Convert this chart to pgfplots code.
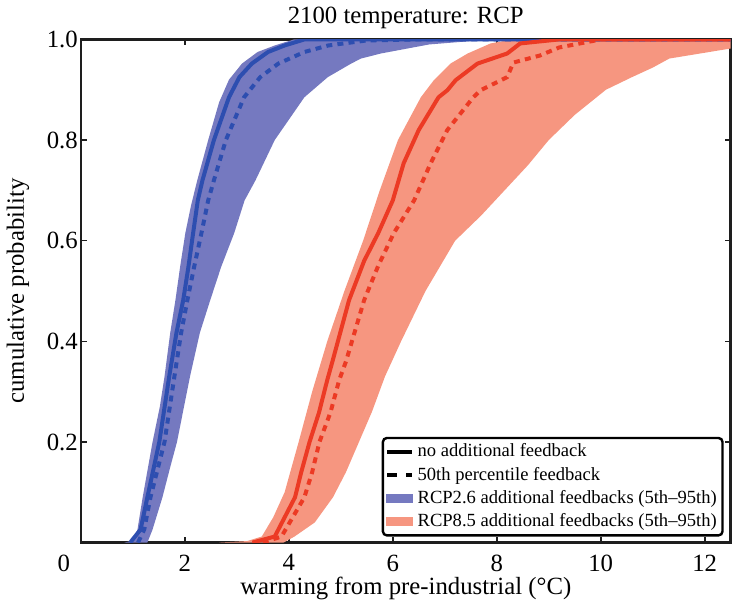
\documentclass[border=0pt]{standalone}
\usepackage{pgfplots}
\pgfplotsset{compat=1.18}
\usepackage{fontspec}
\setmainfont{Liberation Serif}
\definecolor{bfill}{RGB}{117,121,192}
\definecolor{bline}{RGB}{45,78,176}
\definecolor{rfill}{RGB}{246,150,128}
\definecolor{rline}{RGB}{236,58,36}
\definecolor{frame}{RGB}{30,30,30}
\begin{document}
\begin{tikzpicture}[font=\fontsize{12.4}{15}\selectfont]
\begin{axis}[
  scale only axis, width=325.5pt, height=252pt,
  xmin=0, xmax=12.5, ymin=0, ymax=1,
  axis line style={frame, line width=1.3pt},
  tick style={frame, line width=0.8pt},
  major tick length=3pt,
  tick align=inside,
  xtick={0,2,4,6,8,10,12},
  xticklabels={\llap{0\kern5.4pt},2,4,6,8,10,12},
  xticklabel style={yshift=-2.5pt},
  ytick={0.2,0.4,0.6,0.8,1.0},
  yticklabel style={/pgf/number format/fixed, /pgf/number format/fixed zerofill, /pgf/number format/precision=1, xshift=2pt},
  /pgf/number format/assume math mode=true,
  title={2100 temperature: RCP},
  title style={yshift=-4pt},
  xlabel={warming from pre-industrial (°C)},
  every axis x label/.style={at={(axis description cs:0.5,0)}, anchor=center, yshift=-23pt},
  ylabel={cumulative probability},
  every axis y label/.style={at={(axis description cs:0,0.5)}, xshift=-31.5pt, rotate=90, anchor=center},
  legend cell align=left,
  legend style={at={(1,0)}, anchor=south east, xshift=-3.5pt, yshift=3pt,
    draw=black, line width=1.2pt, rounded corners=2pt, fill=white,
    font=\fontsize{9.3}{11}\selectfont, inner sep=1.2pt, nodes={inner sep=1.7pt}, row sep=0.2pt,
    /tikz/every even column/.append style={column sep=0pt}},
]
% RCP2.6 band
\addplot[fill=bfill, draw=none, forget plot] coordinates {
(0.84,0) (1.0,0.004) (1.09,0.026) (1.19,0.09) (1.38,0.2) (1.52,0.27) (1.61,0.33) (1.72,0.417) (1.82,0.482) (1.91,0.548) (2.01,0.615) (2.12,0.67) (2.24,0.72) (2.45,0.8) (2.66,0.875) (2.85,0.92) (3.1,0.952) (3.4,0.975) (3.73,0.988) (4.1,1.0)
(7.9,1.0) (6.7,0.99) (5.77,0.972) (5.39,0.962) (5.2,0.952) (4.75,0.925) (4.3,0.885) (3.73,0.8) (3.36,0.72) (3.15,0.68) (2.95,0.615) (2.7,0.548) (2.49,0.482) (2.29,0.417) (2.1,0.33) (1.85,0.2) (1.72,0.15) (1.57,0.09) (1.38,0.026) (1.28,0)
} -- cycle;
% RCP8.5 band
\addplot[fill=rfill, draw=none, forget plot] coordinates {
(2.66,0) (3.2,0.003) (3.48,0.012) (3.7,0.05) (3.92,0.1) (4.19,0.2) (4.45,0.3) (4.74,0.4) (5.07,0.5) (5.43,0.6) (5.75,0.7) (6.1,0.8) (6.54,0.885) (6.79,0.919) (7.11,0.952) (7.44,0.972) (7.88,0.992) (8.3,1.0)
(12.6,1.0) (12.6,0.984) (12.5,0.982) (12.03,0.974) (11.32,0.962) (11.0,0.944) (10.6,0.925) (10.1,0.9) (9.5,0.85) (9.0,0.8) (8.6,0.75) (8.15,0.7) (7.7,0.65) (7.2,0.6) (6.63,0.5) (6.16,0.4) (5.85,0.33) (5.6,0.26) (5.35,0.2) (5.1,0.14) (4.85,0.09) (4.5,0.04) (4.11,0.012) (3.9,0)
} -- cycle;
% RCP2.6 lines
\addplot[bline, line width=2pt, line join=round, forget plot] coordinates {
(0.95,0) (1.15,0.026) (1.28,0.09) (1.51,0.2) (1.70,0.33) (1.84,0.417) (1.97,0.482) (2.07,0.548) (2.16,0.615) (2.25,0.68) (2.34,0.72) (2.56,0.8) (2.85,0.885) (3.05,0.925) (3.29,0.952) (3.6,0.975) (3.92,0.988) (4.3,1.0) (12.5,1.0)
};
\addplot[bline, line width=2pt, dash pattern=on 3pt off 2.6pt, forget plot] coordinates {
(1.1,0) (1.22,0.026) (1.34,0.09) (1.61,0.2) (1.80,0.33) (1.93,0.417) (2.05,0.482) (2.18,0.548) (2.32,0.615) (2.45,0.68) (2.56,0.72) (2.79,0.8) (3.14,0.885) (3.45,0.925) (3.8,0.952) (4.3,0.975) (4.76,0.988) (5.5,0.998) (6.5,1.0) (12.5,1.0)
};
% RCP8.5 lines
\addplot[rline, line width=2pt, line join=round, forget plot] coordinates {
(3.3,0) (3.73,0.012) (4.12,0.09) (4.24,0.14) (4.4,0.2) (4.58,0.258) (4.74,0.323) (4.84,0.36) (5.16,0.482) (5.45,0.56) (5.72,0.615) (6.0,0.68) (6.21,0.754) (6.5,0.82) (6.88,0.885) (7.05,0.899) (7.21,0.919) (7.63,0.952) (8.2,0.972) (8.45,0.992) (9.2,1.0) (12.5,1.0)
};
\addplot[rline, line width=2pt, dash pattern=on 3pt off 2.6pt, forget plot] coordinates {
(3.5,0) (3.86,0.012) (4.30,0.09) (4.45,0.14) (4.59,0.2) (4.8,0.258) (4.97,0.323) (5.1,0.36) (5.45,0.482) (5.72,0.55) (6.02,0.615) (6.41,0.68) (6.73,0.754) (7.05,0.82) (7.55,0.885) (7.69,0.899) (8.2,0.925) (8.32,0.954) (8.83,0.968) (9.2,0.984) (10.0,1.0) (12.5,1.0)
};
% legend
\addlegendimage{legend image code/.code={\draw[black, line width=2pt, sharp corners] (0pt,0pt) -- (12.5pt,0pt);}}
\addlegendentry{no additional feedback}
\addlegendimage{legend image code/.code={\draw[black, line width=2pt, sharp corners, dash pattern=on 5pt off 4.5pt] (0pt,0pt) -- (12.5pt,0pt);}}
\addlegendentry{50th percentile feedback}
\addlegendimage{legend image code/.code={\fill[bfill, sharp corners] (0pt,-1.8pt) rectangle (12.5pt,1.8pt);}}
\addlegendentry{RCP2.6 additional feedbacks (5th--95th)}
\addlegendimage{legend image code/.code={\fill[rfill, sharp corners] (0pt,-1.8pt) rectangle (12.5pt,1.8pt);}}
\addlegendentry{RCP8.5 additional feedbacks (5th--95th)}
\end{axis}
\end{tikzpicture}
\end{document}
